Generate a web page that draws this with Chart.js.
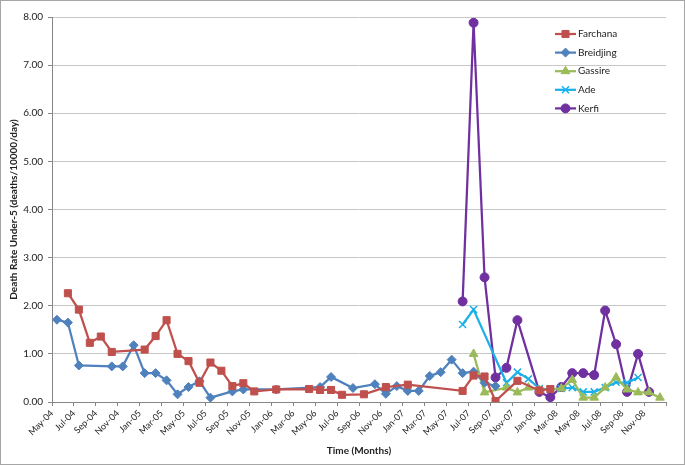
<!DOCTYPE html>
<html>
<head>
<meta charset="utf-8">
<script src="https://cdn.jsdelivr.net/npm/chart.js@4.4.1/dist/chart.umd.min.js"></script>
<style>
  html,body{margin:0;padding:0;background:#fff}
  #wrap{width:685px;height:465px}
</style>
</head>
<body>
<div id="wrap"><canvas id="chart" width="685" height="465"></canvas></div>
<script>
const MONTHS=["Jan","Feb","Mar","Apr","May","Jun","Jul","Aug","Sep","Oct","Nov","Dec"];

// data (month-yy, rate per 10000/day)
const farchanaDates=["Jun-04","Jul-04","Aug-04","Sep-04","Oct-04","Jan-05","Feb-05","Mar-05","Apr-05","May-05",
  "Jun-05","Jul-05","Aug-05","Sep-05","Oct-05","Nov-05","Jan-06","Apr-06","May-06","Jun-06","Jul-06","Sep-06",
  "Nov-06","Jan-07","Jun-07","Jul-07","Aug-07","Sep-07","Nov-07","Jan-08","Feb-08"];
const farchanaRate=[2.26,1.92,1.23,1.36,1.04,1.09,1.37,1.70,1.00,0.85,
  0.40,0.82,0.65,0.33,0.39,0.22,0.26,0.27,0.25,0.25,0.15,0.16,
  0.31,0.36,0.23,0.55,0.53,0.02,0.44,0.24,0.27];

const breidjingDates=["May-04","Jun-04","Jul-04","Oct-04","Nov-04","Dec-04","Jan-05","Feb-05","Mar-05","Apr-05",
  "May-05","Jun-05","Jul-05","Sep-05","Oct-05","Jan-06","May-06","Jun-06","Aug-06","Oct-06","Nov-06","Dec-06",
  "Jan-07","Feb-07","Mar-07","Apr-07","May-07","Jun-07","Jul-07","Aug-07","Sep-07"];
const breidjingRate=[1.71,1.65,0.76,0.74,0.74,1.18,0.60,0.60,0.45,0.16,
  0.31,0.43,0.09,0.22,0.26,0.26,0.31,0.52,0.29,0.37,0.17,0.33,
  0.23,0.23,0.54,0.62,0.88,0.60,0.63,0.40,0.33];

const gassireDates=["Jul-07","Aug-07","Oct-07","Nov-07","Dec-07","Jan-08","Mar-08","Apr-08","May-08","Jun-08",
  "Jul-08","Aug-08","Sep-08","Oct-08","Nov-08","Dec-08"];
const gassireRate=[1.00,0.20,0.30,0.20,0.30,0.25,0.28,0.46,0.09,0.09,
  0.30,0.51,0.26,0.20,0.20,0.09];

const adeDates=["Jun-07","Jul-07","Oct-07","Nov-07","Dec-07","Jan-08","Feb-08","Mar-08","Apr-08","May-08",
  "Jun-08","Jul-08","Aug-08","Sep-08","Oct-08"];
const adeRate=[1.61,1.92,0.40,0.62,0.48,0.28,0.26,0.28,0.30,0.21,
  0.21,0.30,0.41,0.40,0.51];

const kerfiDates=["Jun-07","Jul-07","Aug-07","Sep-07","Oct-07","Nov-07","Jan-08","Feb-08","Mar-08","Apr-08",
  "May-08","Jun-08","Jul-08","Aug-08","Sep-08","Oct-08","Nov-08"];
const kerfiRate=[2.09,7.88,2.59,0.51,0.71,1.70,0.21,0.10,0.31,0.60,
  0.60,0.56,1.90,1.20,0.21,1.00,0.21];

// month index from May-04, points sit mid-month
function monthPos(s){
  const [mon,yy]=s.split("-");
  return (Number(yy)-4)*12 + MONTHS.indexOf(mon) - 4 + 0.45;
}
function monthLabel(v){
  const t=4+v, y=4+Math.floor(t/12);
  return MONTHS[t%12]+"-"+String(y).padStart(2,"0");
}
function pts(dates,vals){ return dates.map((d,i)=>({x:monthPos(d),y:vals[i]})); }

function series(label,dates,vals,color,style,radius){
  return {
    label,
    data:pts(dates,vals),
    borderColor:color,
    backgroundColor:color,
    borderWidth:2.25,
    pointStyle:style,
    pointRadius:radius,
    pointHoverRadius:radius,
    pointBorderWidth:style==="crossRot"?1.5:1,
    tension:0
  };
}

const FONT="Lato, 'Liberation Sans', sans-serif";

/* legend drawn inside the plot, gridlines show through */
const innerLegend={
  id:"innerLegend",
  afterDraw(chart){
    const ctx=chart.ctx, a=chart.chartArea;
    const x0=a.right-111, y0=34;
    ctx.save();
    chart.data.datasets.forEach((ds,i)=>{
      const y=y0+i*18.6;
      ctx.strokeStyle=ds.borderColor;
      ctx.lineWidth=2.25;
      ctx.beginPath(); ctx.moveTo(x0,y); ctx.lineTo(x0+21,y); ctx.stroke();
      ctx.fillStyle=ds.backgroundColor;
      ctx.lineWidth=ds.pointBorderWidth;
      Chart.helpers.drawPoint(ctx,{pointStyle:ds.pointStyle,radius:ds.pointRadius,rotation:0,borderWidth:ds.pointBorderWidth},x0+10.5,y);
      ctx.fillStyle="#222";
      ctx.font="10px "+FONT;
      ctx.textBaseline="middle";
      ctx.textAlign="left";
      ctx.fillText(ds.label,x0+23,y);
    });
    ctx.restore();
  }
};

const frame={
  id:"frame",
  afterDraw(chart){
    const ctx=chart.ctx;
    ctx.save();
    ctx.strokeStyle="#A6A6A6";
    ctx.lineWidth=1;
    ctx.strokeRect(0.5,0.5,chart.width-1,chart.height-1);
    ctx.restore();
  }
};

new Chart(document.getElementById("chart"),{
  type:"line",
  data:{
    datasets:[
      series("Farchana",farchanaDates,farchanaRate,"#C0504D","rect",5),
      series("Breidjing",breidjingDates,breidjingRate,"#4F81BD","rectRot",4.5),
      series("Gassire",gassireDates,gassireRate,"#9BBB59","triangle",5),
      series("Ade",adeDates,adeRate,"#1CB0EA","crossRot",5),
      series("Kerfi",kerfiDates,kerfiRate,"#7030A0","circle",4.5)
    ]
  },
  options:{
    responsive:false,
    animation:false,
    layout:{padding:{top:17,right:19,left:0,bottom:0}},
    plugins:{legend:{display:false},tooltip:{enabled:false}},
    scales:{
      x:{
        type:"linear",
        min:0,max:56,
        grid:{drawOnChartArea:false,color:"#868686",tickLength:4},
        border:{color:"#868686"},
        ticks:{
          stepSize:2,autoSkip:false,maxRotation:45,minRotation:45,
          color:"#222",font:{family:FONT,size:9},padding:2,
          callback:v=>v>=56?"":monthLabel(v)
        },
        title:{display:true,text:"Time (Months)",color:"#222",
          font:{family:FONT,size:10,weight:"bold"},padding:{top:0,bottom:8}},
        afterFit(s){ s.height=63; }
      },
      y:{
        min:0,max:8,
        grid:{color:"#C8C8C8",tickColor:"#868686",tickLength:4},
        border:{color:"#868686"},
        ticks:{stepSize:1,color:"#222",font:{family:FONT,size:10},padding:5,
          callback:v=>v.toFixed(2)},
        title:{display:true,text:"Death Rate Under-5 (deaths/10000/day)",color:"#222",
          font:{family:FONT,size:10,weight:"bold"},padding:{top:8,bottom:0}},
        afterFit(s){ s.width=52; }
      }
    }
  },
  plugins:[innerLegend,frame]
});
</script>
</body>
</html>
